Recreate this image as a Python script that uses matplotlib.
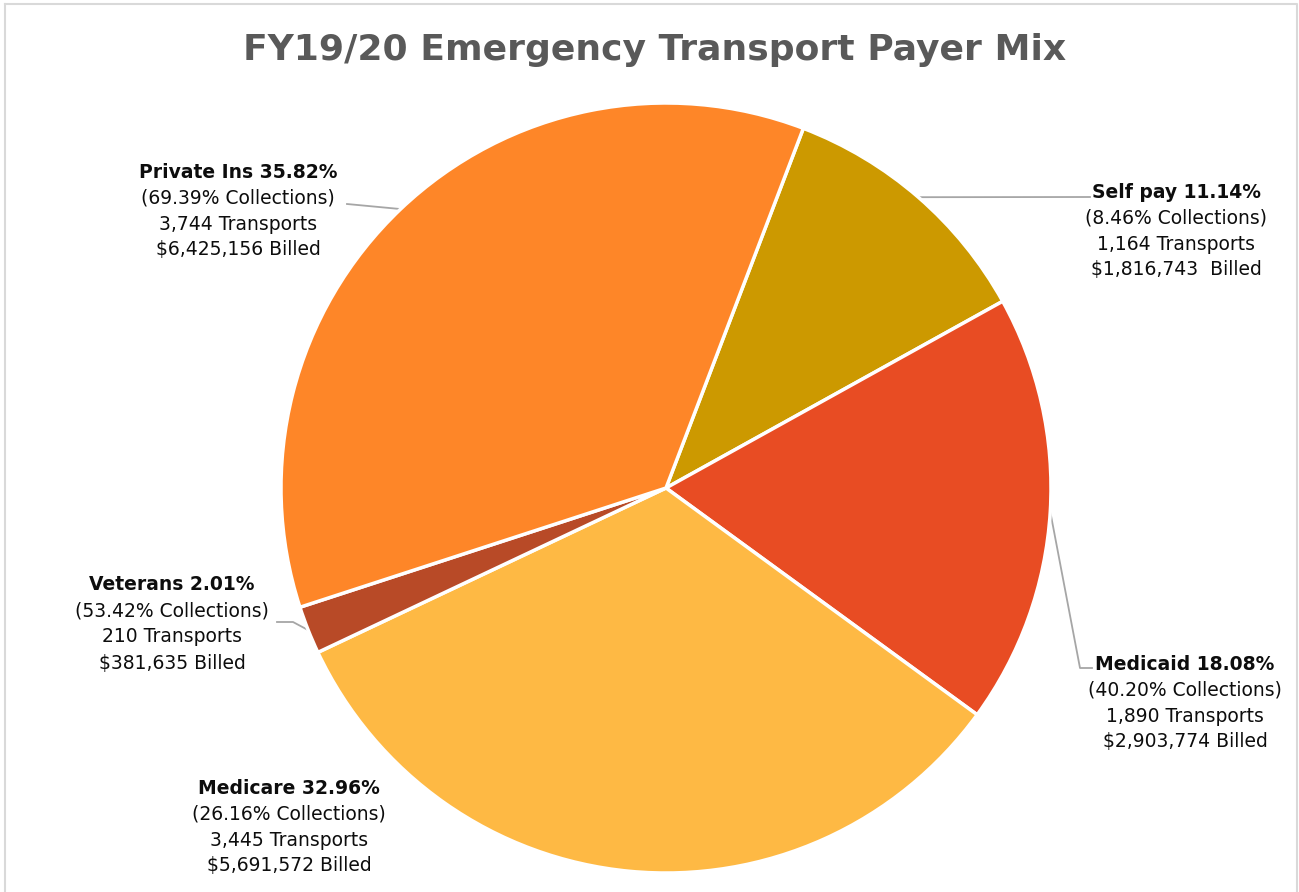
import matplotlib
matplotlib.use("Agg")
import matplotlib.pyplot as plt
import numpy as np

# data
payers = ["Self pay", "Medicaid", "Medicare", "Veterans", "Private Ins"]
transports = [1164, 1890, 3445, 210, 3744]
share_pct = ["11.14%", "18.08%", "32.96%", "2.01%", "35.82%"]
collections = ["8.46%", "40.20%", "26.16%", "53.42%", "69.39%"]
billed = ["$1,816,743  Billed", "$2,903,774 Billed", "$5,691,572 Billed",
          "$381,635 Billed", "$6,425,156 Billed"]
colors = ["#CC9900", "#E84C23", "#FEB944", "#B84A27", "#FE8628"]

W, H = 1299, 892
cx, cy, R = 666, 488, 385  # pie centre / radius in pixels

fig = plt.figure(figsize=(W / 100, H / 100), dpi=100)
ax = fig.add_axes([0, 0, 1, 1])

wedges, _ = ax.pie(transports, colors=colors, startangle=69.1, counterclock=False,
                   radius=1, center=(0, 0), frame=True,
                   wedgeprops=dict(edgecolor="white", linewidth=2.5))
ax.set_xlim(-cx / R, (W - cx) / R)
ax.set_ylim(-(H - cy) / R, cy / R)
ax.axis("off")

def px(x, y):
    return (x - cx) / R, (cy - y) / R

# label block centre (px) and top line y, plus leader elbow
label_pos = {
    "Self pay": (1176, 192),
    "Medicaid": (1185, 664),
    "Medicare": (289, 788),
    "Veterans": (172, 585),
    "Private Ins": (238, 172),
}
elbows = {
    "Self pay": [(1090, 197)],
    "Medicaid": [(1080, 668), (1092, 668)],
    "Veterans": [(293, 622), (277, 622)],
    "Private Ins": [(347, 204)],
}

txt_color = "#0D0D0D"
step = 26
fs = 13.5
for i, name in enumerate(payers):
    x0, y0 = label_pos[name]
    lines = [f"({collections[i]} Collections)",
             f"{transports[i]:,} Transports", billed[i]]
    ax.text(*px(x0, y0), f"{name} {share_pct[i]}", ha="center", va="center",
            fontsize=fs, fontweight="bold", color=txt_color)
    for k, s in enumerate(lines):
        ax.text(*px(x0, y0 + step * (k + 1)), s, ha="center", va="center",
                fontsize=fs, color=txt_color)

    if name in elbows:
        w = wedges[i]
        mid = np.deg2rad((w.theta1 + w.theta2) / 2)
        pts = [(np.cos(mid), np.sin(mid))] + [px(*p) for p in elbows[name]]
        xs, ys = zip(*pts)
        ax.plot(xs, ys, color="#A6A6A6", linewidth=1.3, zorder=0.5)

ax.text(*px(655, 50), "FY19/20 Emergency Transport Payer Mix", ha="center",
        va="center", fontsize=26, fontweight="bold", color="#595959")

# chart border
x1, y1 = px(5, 4)
x2, y2 = px(1297, 900)
ax.plot([x1, x2, x2, x1, x1], [y1, y1, y2, y2, y1], color="#D9D9D9",
        linewidth=1.5, clip_on=False)

fig.savefig("out.png", dpi=100)
